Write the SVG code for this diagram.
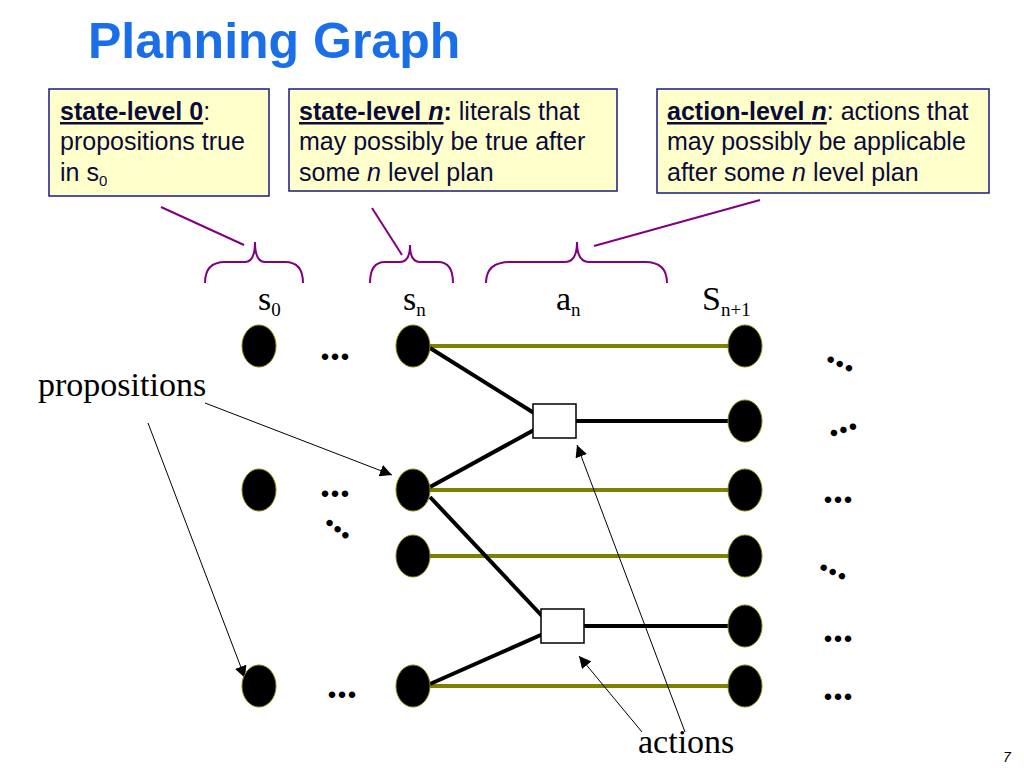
<svg xmlns="http://www.w3.org/2000/svg" width="1024" height="768" viewBox="0 0 1024 768">
<style>
.t{font-family:"Liberation Sans",Arial,sans-serif;font-size:25px;fill:#0b0b3b}
.s{font-family:"Liberation Serif","Times New Roman",serif;fill:#000}
.box{fill:#ffffcc;stroke:#1a1a80;stroke-width:1.5}
.br{fill:none;stroke:#800080;stroke-width:2}
.n{fill:#000;stroke:#808000;stroke-width:1}
.g{stroke:#808000;stroke-width:4}
.k{stroke:#000;stroke-width:4}
.a{stroke:#000;stroke-width:1;fill:none;marker-end:url(#ah)}
.d{font-family:"Liberation Serif",serif;font-size:40px;font-weight:bold}
</style>
<defs><marker id="ah" viewBox="0 0 10 10" refX="10" refY="5" markerWidth="12" markerHeight="12" markerUnits="userSpaceOnUse" orient="auto"><path d="M0,0L10,5L0,10z"/></marker></defs>
<rect width="1024" height="768" fill="#fff"/>
<text x="88" y="58" font-family="Liberation Sans,Arial,sans-serif" font-size="50" font-weight="bold" fill="#1a6fe8">Planning Graph</text>
<g id="box0"><rect class="box" x="49" y="89" width="220" height="107"/>
<text class="t" x="60" y="120"><tspan font-weight="bold" text-decoration="underline">state-level 0</tspan>:</text>
<text class="t" x="60" y="150">propositions true</text>
<text class="t" x="60" y="181">in s<tspan font-size="15" dy="5">0</tspan></text></g>
<g id="boxn"><rect class="box" x="289" y="89" width="328" height="102"/>
<text class="t" x="299" y="120"><tspan font-weight="bold" text-decoration="underline">state-level <tspan font-style="italic">n</tspan></tspan><tspan font-weight="bold">:</tspan> literals that</text>
<text class="t" x="299" y="150">may possibly be true after</text>
<text class="t" x="299" y="181">some <tspan font-style="italic">n</tspan> level plan</text></g>
<g id="boxa"><rect class="box" x="657" y="89" width="332" height="104"/>
<text class="t" x="667" y="120"><tspan font-weight="bold" text-decoration="underline">action-level <tspan font-style="italic">n</tspan></tspan>: actions that</text>
<text class="t" x="667" y="150">may possibly be applicable</text>
<text class="t" x="667" y="181">after some <tspan font-style="italic">n</tspan> level plan</text></g>
<g id="braces">
<path class="br" d="M205,283 Q205,262 225,262 L245,262 Q255,262 255,242 Q255,262 265,262 L285,262 Q303,262 303,283"/>
<path class="br" d="M370,283 Q370,262 385,262 L400,262 Q410,262 410,245 Q410,262 420,262 L438,262 Q453,262 453,283"/>
<path class="br" d="M486,283 Q486,262 510,262 L565,262 Q577,262 577,242 Q577,262 589,262 L645,262 Q667,262 667,283"/>
<line class="br" x1="161" y1="207" x2="244" y2="245"/>
<line class="br" x1="372" y1="208" x2="402" y2="255"/>
<line class="br" x1="760" y1="200" x2="594" y2="246"/>
</g>
<g class="s" font-size="34"><text x="258" y="310">s<tspan font-size="19" dy="6">0</tspan></text>
<text x="403" y="310">s<tspan font-size="19" dy="6">n</tspan></text>
<text x="556" y="310">a<tspan font-size="19" dy="6">n</tspan></text>
<text x="702" y="310">S<tspan font-size="19" dy="6">n+1</tspan></text>
<text x="38" y="396">propositions</text>
<text x="638" y="753">actions</text></g>
<text x="1003" y="762" font-family="Liberation Sans,sans-serif" font-size="14" font-style="italic">7</text>
<g id="connectors">
<line class="g" x1="413" y1="346" x2="745" y2="346"/>
<line class="g" x1="413" y1="490" x2="745" y2="490"/>
<line class="g" x1="413" y1="556" x2="745" y2="556"/>
<line class="g" x1="413" y1="686" x2="745" y2="686"/>
<line class="k" x1="430" y1="348" x2="534" y2="413"/>
<line class="k" x1="430" y1="487" x2="534" y2="430"/>
<line class="k" x1="576" y1="421" x2="745" y2="421"/>
<line class="k" x1="430" y1="497" x2="543" y2="617"/>
<line class="k" x1="430" y1="684" x2="543" y2="634"/>
<line class="k" x1="584" y1="626" x2="745" y2="626"/>
<line class="a" x1="148" y1="423" x2="245" y2="678"/>
<line class="a" x1="205" y1="403" x2="392" y2="475"/>
<line class="a" x1="685" y1="732" x2="577" y2="445"/>
<line class="a" x1="642" y1="732" x2="579" y2="656"/>
</g>
<g id="nodes">
<ellipse class="n" cx="259" cy="346" rx="17" ry="21"/>
<ellipse class="n" cx="259" cy="490" rx="17" ry="21"/>
<ellipse class="n" cx="259" cy="686" rx="17" ry="21"/>
<ellipse class="n" cx="413" cy="346" rx="17" ry="21"/>
<ellipse class="n" cx="413" cy="490" rx="17" ry="21"/>
<ellipse class="n" cx="413" cy="556" rx="17" ry="21"/>
<ellipse class="n" cx="413" cy="686" rx="17" ry="21"/>
<ellipse class="n" cx="745" cy="346" rx="17" ry="21"/>
<ellipse class="n" cx="745" cy="421" rx="17" ry="21"/>
<ellipse class="n" cx="745" cy="490" rx="17" ry="21"/>
<ellipse class="n" cx="745" cy="556" rx="17" ry="21"/>
<ellipse class="n" cx="745" cy="626" rx="17" ry="21"/>
<ellipse class="n" cx="745" cy="686" rx="17" ry="21"/>
<rect x="533" y="404" width="43" height="34" fill="#fff" stroke="#000" stroke-width="1.5"/>
<rect x="541" y="609" width="43" height="34" fill="#fff" stroke="#000" stroke-width="1.5"/>
</g>
<g class="d">
<text x="320" y="360">...</text>
<text x="320" y="497">...</text>
<text x="327" y="698">...</text>
<text x="823" y="503">...</text>
<text x="823" y="642">...</text>
<text x="823" y="700">...</text>
<text transform="translate(324,522) rotate(38)">...</text>
<text transform="translate(825,360) rotate(25)">...</text>
<text transform="translate(818,568) rotate(25)">...</text>
<text transform="translate(830,437) rotate(-18)">...</text>
</g>
</svg>
